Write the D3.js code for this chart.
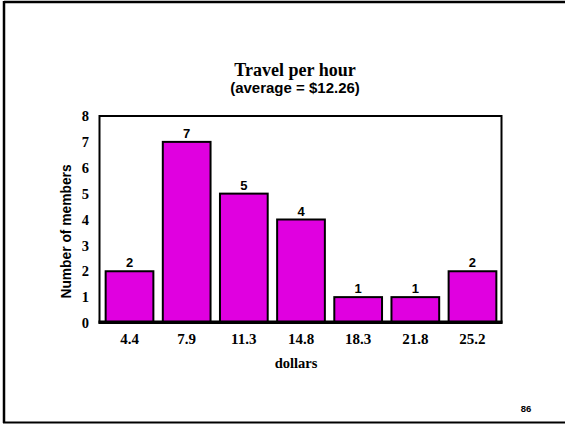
<!DOCTYPE html>
<html><head><meta charset="utf-8">
<script src="https://cdn.jsdelivr.net/npm/d3@7"></script>
<style>body{margin:0;background:#fff}svg{display:block}</style>
</head><body>
<script>
const categories = ["4.4","7.9","11.3","14.8","18.3","21.8","25.2"];
const counts = [2,7,5,4,1,1,2];
const yTicks = [0,1,2,3,4,5,6,7,8];

const W=565,H=424;
const SERIF="Liberation Serif, Times New Roman, serif";
const SANS="Liberation Sans, Arial, sans-serif";
const svg=d3.select("body").append("svg").attr("width",W).attr("height",H);
// slide frame
svg.append("line").attr("x1",4).attr("x2",W).attr("y1",2).attr("y2",2).attr("stroke","#000").attr("stroke-width",2.5);
svg.append("line").attr("x1",4).attr("x2",4).attr("y1",1).attr("y2",423).attr("stroke","#000").attr("stroke-width",2.5);
svg.append("line").attr("x1",3).attr("x2",W).attr("y1",422.5).attr("y2",422.5).attr("stroke","#000").attr("stroke-width",2);

const L=99.5,R=501.5,T=116,B=323;
const x=d3.scaleBand().domain(categories).range([L+1,R]).paddingInner(0.165).paddingOuter(0.09);
const y=d3.scaleLinear().domain([0,8]).range([B,T]);

svg.append("rect").attr("x",L).attr("y",T).attr("width",R-L).attr("height",B-T)
  .attr("fill","none").attr("stroke","#000").attr("stroke-width",2);

svg.selectAll("rect.bar").data(counts).enter().append("rect").attr("class","bar")
  .attr("x",(d,i)=>x(categories[i])).attr("width",x.bandwidth())
  .attr("y",d=>y(d)).attr("height",d=>y(0)-y(d))
  .attr("fill","#e000e0").attr("stroke","#000").attr("stroke-width",2);

// bottom axis line
svg.append("line").attr("x1",L-1).attr("x2",R+1).attr("y1",B-1).attr("y2",B-1).attr("stroke","#000").attr("stroke-width",3);

svg.selectAll("text.val").data(counts).enter().append("text").attr("class","val")
  .attr("x",(d,i)=>x(categories[i])+x.bandwidth()/2).attr("y",d=>y(d)-4)
  .attr("text-anchor","middle").attr("font-family",SANS)
  .attr("font-weight","bold").attr("font-size",13).text(d=>d);

// y axis
const ya=svg.append("g").attr("transform",`translate(${L},0)`)
  .call(d3.axisLeft(y).tickValues(yTicks).tickSize(0).tickPadding(10.5).tickFormat(d3.format("d")));
ya.select(".domain").remove();
ya.attr("font-size",null).attr("font-family",null);
ya.selectAll("text").style("font-family",SERIF).style("font-weight","bold").style("font-size","14.5px").attr("fill","#000");

// x axis
const xa=svg.append("g").attr("transform",`translate(0,${B})`)
  .call(d3.axisBottom(x).tickSize(0).tickPadding(10));
xa.select(".domain").remove();
xa.attr("font-size",null).attr("font-family",null);
xa.selectAll("text").style("font-family",SERIF).style("font-weight","bold").style("font-size","15px").attr("fill","#000");

svg.append("text").attr("x",296).attr("y",368).attr("text-anchor","middle")
  .attr("font-family",SERIF).attr("font-weight","bold").attr("font-size",14.5).text("dollars");

svg.append("text").attr("transform","translate(71,231.5) rotate(-90)").attr("text-anchor","middle")
  .attr("font-family",SANS).attr("font-weight","bold").attr("font-size",13.8).text("Number of members");

svg.append("text").attr("x",295).attr("y",76).attr("text-anchor","middle")
  .attr("font-family",SERIF).attr("font-weight","bold").attr("font-size",18).text("Travel per hour");
svg.append("text").attr("x",295).attr("y",92.5).attr("text-anchor","middle")
  .attr("font-family",SANS).attr("font-weight","bold").attr("font-size",15).text("(average = $12.26)");

svg.append("text").attr("x",526).attr("y",412).attr("text-anchor","middle")
  .attr("font-family",SANS).attr("font-weight","bold").attr("font-size",9.5).text("86");
</script>
</body></html>
